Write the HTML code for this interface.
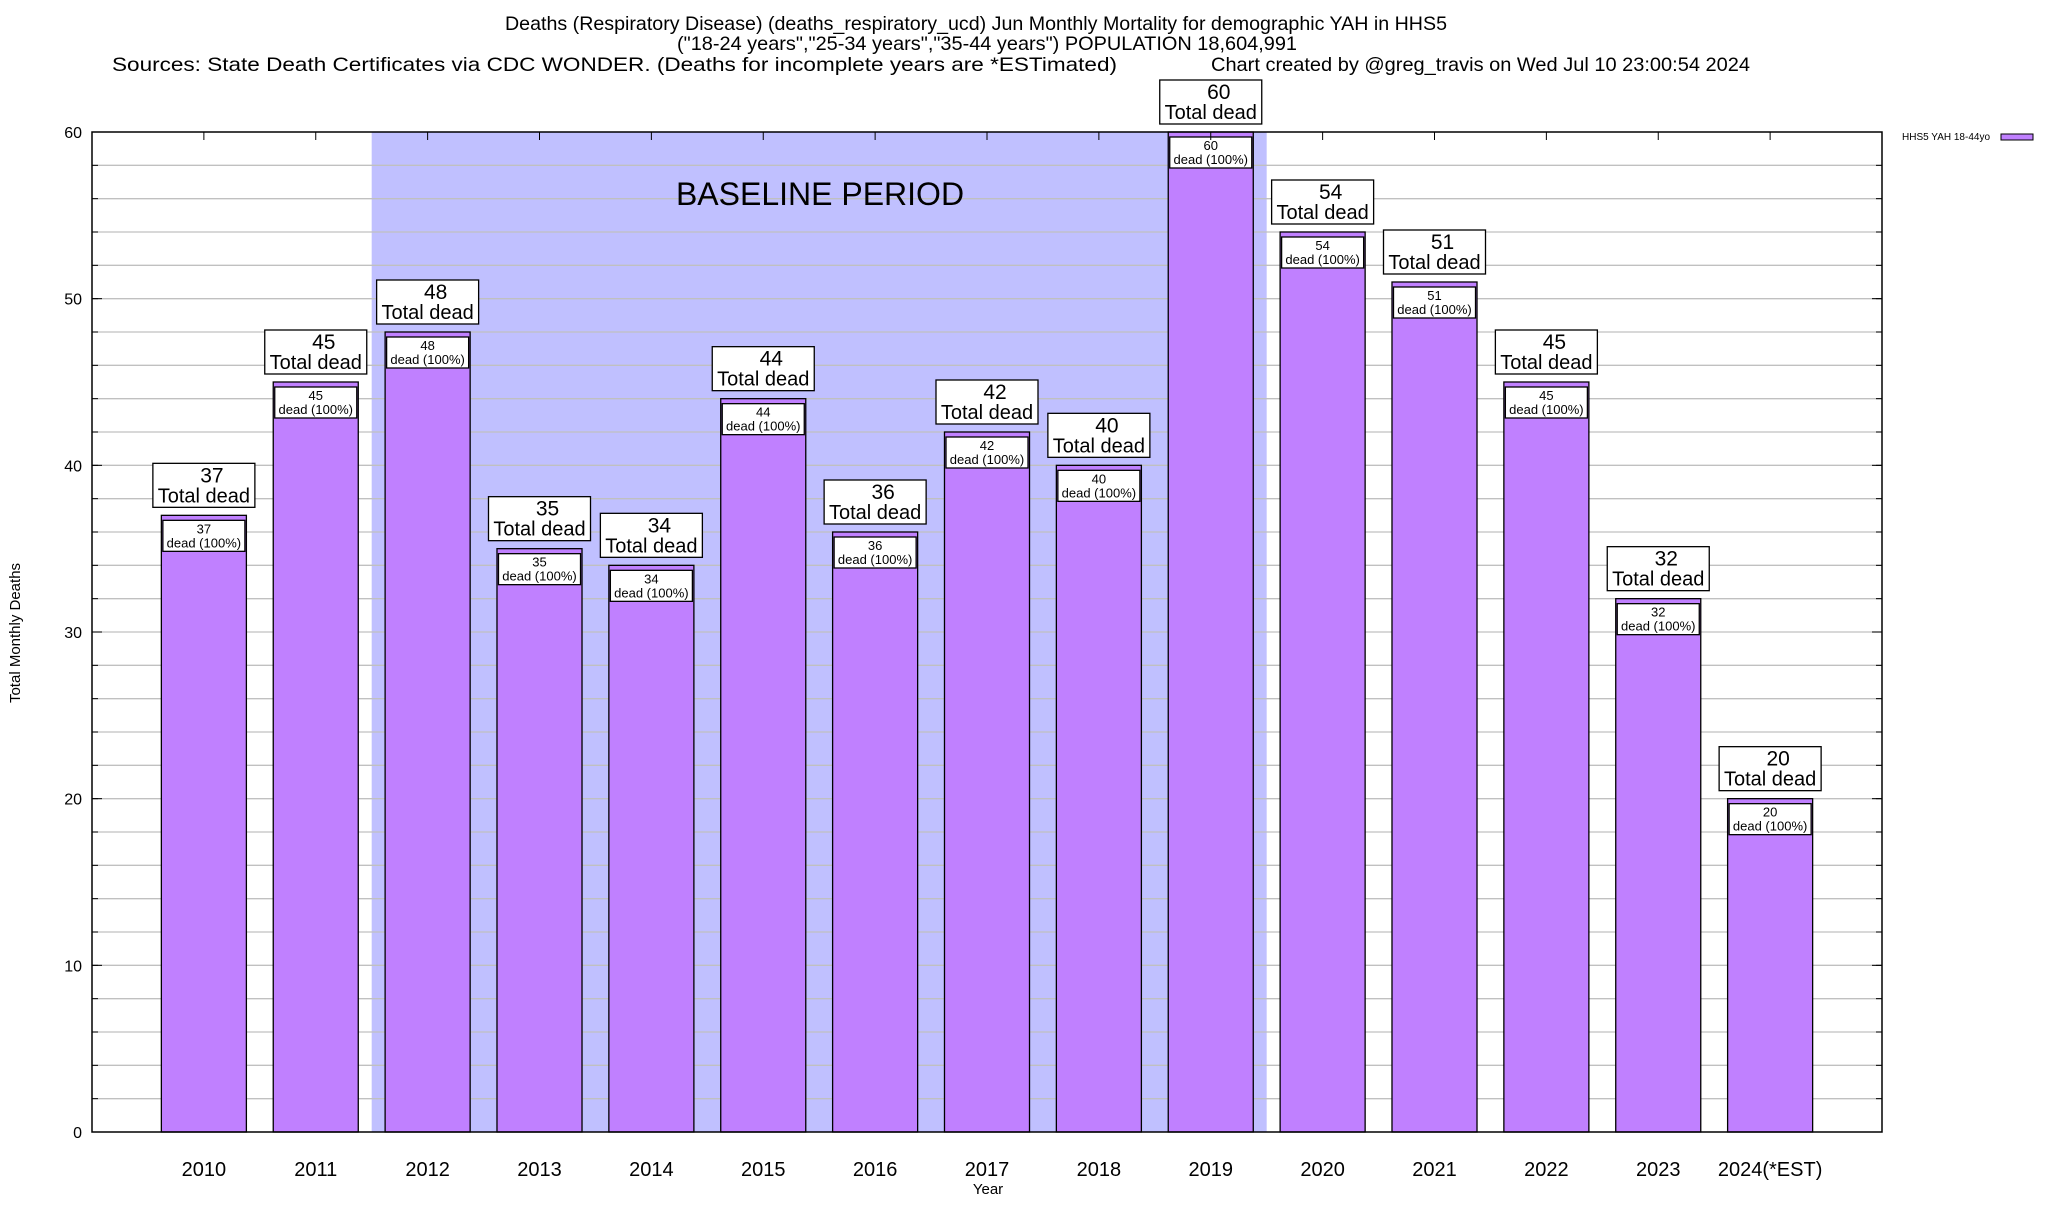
<!DOCTYPE html>
<html><head><meta charset="utf-8"><style>
body{margin:0;background:#fff}
svg text{font-family:"Liberation Sans",Arial,sans-serif}
</style></head><body>
<svg id="chart" width="2048" height="1200" xmlns="http://www.w3.org/2000/svg">
<g font-size="19.5" fill="#000">
<text x="505" y="30" textLength="942" lengthAdjust="spacingAndGlyphs">Deaths (Respiratory Disease) (deaths_respiratory_ucd) Jun Monthly Mortality for demographic YAH in HHS5</text>
<text x="677" y="50" textLength="620" lengthAdjust="spacingAndGlyphs">("18-24 years","25-34 years","35-44 years") POPULATION 18,604,991</text>
<text x="112" y="71" textLength="1005" lengthAdjust="spacingAndGlyphs">Sources: State Death Certificates via CDC WONDER. (Deaths for incomplete years are *ESTimated)</text>
<text x="1211" y="71" textLength="539" lengthAdjust="spacingAndGlyphs">Chart created by @greg_travis on Wed Jul 10 23:00:54 2024</text>
</g>
<g id="plot"></g>
<text x="20" y="633" font-size="15" text-anchor="middle" transform="rotate(-90 20 633)">Total Monthly Deaths</text>
<text x="988" y="1194" font-size="15" text-anchor="middle">Year</text>
<g>
<text x="1902" y="140" font-size="10">HHS5 YAH 18-44yo</text>
<rect x="2001" y="134" width="32" height="6" fill="#c080ff" stroke="#000" stroke-width="1"/>
</g>
</svg>
<script>
const categories=["2010","2011","2012","2013","2014","2015","2016","2017","2018","2019","2020","2021","2022","2023","2024(*EST)"];
const deaths=[37,45,48,35,34,44,36,42,40,60,54,51,45,32,20];
const yTicks=[0,10,20,30,40,50,60];
const baselineStart=1.5, baselineEnd=9.5;
const L=92,R=1882,T=132,B=1132;
const xs=v=>L+(v+1)*(R-L)/16;
const ys=v=>B-v*(B-T)/60;
const NS="http://www.w3.org/2000/svg";
const g=document.getElementById('plot');
function mk(t,a,p){const e=document.createElementNS(NS,t);for(const k in a)e.setAttribute(k,a[k]);(p||g).appendChild(e);return e;}
let sh=mk('rect',{x:xs(baselineStart),y:T,width:xs(baselineEnd)-xs(baselineStart),height:B-T,fill:'#c0c0ff'});


for(let v=2;v<60;v+=2){let l=mk('line',{x1:L,x2:R,y1:ys(v),y2:ys(v),stroke:'#c0c0c0','stroke-width':1.3});


mk('line',{x1:L,x2:L+6,y1:ys(v),y2:ys(v),stroke:'#000'});mk('line',{x1:R-6,x2:R,y1:ys(v),y2:ys(v),stroke:'#000'});}
let bt=mk('text',{x:820,y:205,'font-size':32,'text-anchor':'middle'});bt.textContent='BASELINE PERIOD';


yTicks.forEach(v=>{let t=mk('text',{x:82,y:ys(v)+6,'font-size':16,'text-anchor':'end'});t.textContent=v;


mk('line',{x1:L,x2:L+10,y1:ys(v),y2:ys(v),stroke:'#000'});mk('line',{x1:R-10,x2:R,y1:ys(v),y2:ys(v),stroke:'#000'});});
const bw=0.76*(R-L)/16;
deaths.forEach((d,i)=>{
 const cx=xs(i),x0=cx-bw/2,yt=ys(d);
 let r=mk('rect',{x:x0,y:yt,width:bw,height:B-yt,fill:'#c080ff',stroke:'#000','stroke-width':1.3});
 
 
 mk('rect',{x:x0+1.5,y:yt+5,width:bw-3,height:31,fill:'#fff',stroke:'#000','stroke-width':1.3});
 let s1=mk('text',{x:cx,y:yt+18,'font-size':13,'text-anchor':'middle'});s1.textContent=d;
 
 
 let s2=mk('text',{x:cx,y:yt+32,'font-size':13,'text-anchor':'middle'});s2.textContent='dead (100%)';
 
 
 let ob=mk('rect',{x:cx-51,y:yt-52,width:102,height:44,fill:'#fff',stroke:'#000','stroke-width':1.3});
 
 
 let t1=mk('text',{x:cx+8,y:yt-33,'font-size':21,'text-anchor':'middle'});t1.textContent=d;
 
 
 let t2=mk('text',{x:cx,y:yt-13,'font-size':20,'text-anchor':'middle'});t2.textContent='Total dead';
 
 
 let xl=mk('text',{x:cx,y:1176,'font-size':20,'text-anchor':'middle'});xl.textContent=categories[i];
 
 
 mk('line',{x1:cx,x2:cx,y1:T,y2:T+8,stroke:'#000'});
});
let fr=mk('rect',{x:L,y:T,width:R-L,height:B-T,fill:'none',stroke:'#000','stroke-width':1.5});


</script>
</body></html>
